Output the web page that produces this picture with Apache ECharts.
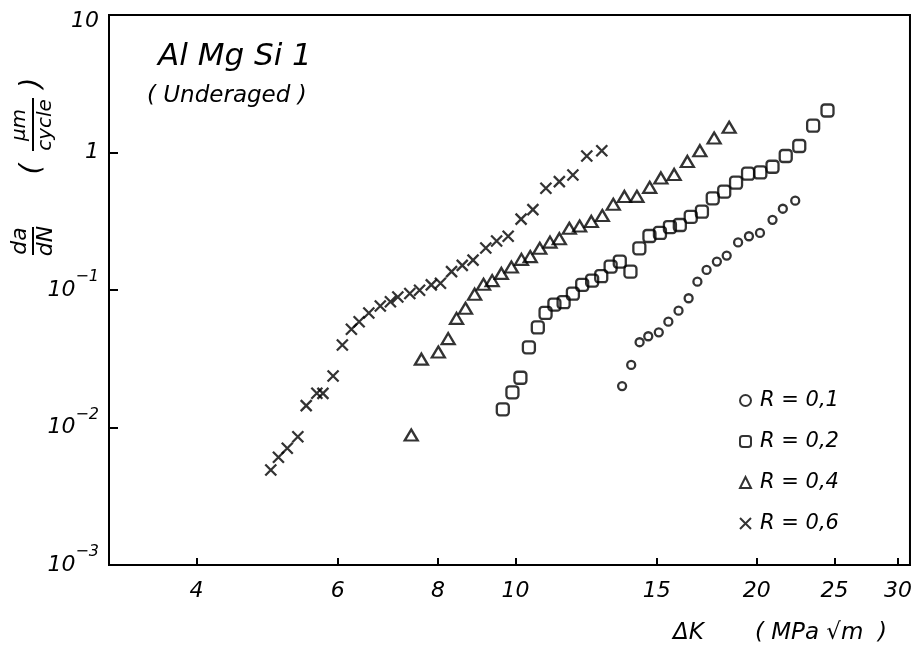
<!DOCTYPE html>
<html><head><meta charset="utf-8">
<script src="https://cdn.jsdelivr.net/npm/echarts@6/dist/echarts.min.js"></script>
<style>html,body{margin:0;padding:0;background:#fff}#c{width:915px;height:647px}</style>
</head><body><div id="c"></div>
<script>
// ---- data (ΔK in MPa·√m, da/dN in µm/cycle) ----
const seriesNames = ['R = 0,1', 'R = 0,2', 'R = 0,4', 'R = 0,6'];

const r01_dK   = [13.58, 13.94, 14.28, 14.64, 15.09, 15.51, 15.97, 16.44, 16.86, 17.31, 17.83, 18.34, 18.95, 19.55, 20.18, 20.92, 21.55, 22.33];
const r01_dadN = [0.0200, 0.0285, 0.0417, 0.0461, 0.0492, 0.0588, 0.0707, 0.0871, 0.115, 0.140, 0.161, 0.178, 0.222, 0.246, 0.260, 0.324, 0.390, 0.446];

const r02_dK   = [9.64, 9.91, 10.14, 10.39, 10.66, 10.90, 11.18, 11.48, 11.79, 12.11, 12.46, 12.79, 13.14, 13.49, 13.91, 14.27, 14.69, 15.14, 15.58, 16.03, 16.54, 17.08, 17.62, 18.21, 18.84, 19.50, 20.20, 20.92, 21.73, 22.59, 23.51, 24.50];
const r02_dadN = [0.01356, 0.01803, 0.0230, 0.0383, 0.0534, 0.0681, 0.0782, 0.0815, 0.094, 0.109, 0.117, 0.126, 0.148, 0.161, 0.136, 0.201, 0.247, 0.260, 0.287, 0.297, 0.340, 0.371, 0.464, 0.519, 0.603, 0.701, 0.716, 0.788, 0.943, 1.115, 1.566, 2.02];

const r04_dK   = [7.41, 7.63, 8.01, 8.24, 8.44, 8.66, 8.89, 9.12, 9.35, 9.60, 9.88, 10.17, 10.43, 10.72, 11.04, 11.34, 11.67, 12.02, 12.43, 12.83, 13.24, 13.67, 14.17, 14.70, 15.18, 15.77, 16.38, 16.98, 17.69, 18.47];
const r04_dadN = [0.00882, 0.0314, 0.0354, 0.0443, 0.0622, 0.0736, 0.0932, 0.110, 0.117, 0.132, 0.147, 0.167, 0.175, 0.201, 0.223, 0.236, 0.281, 0.292, 0.315, 0.348, 0.420, 0.479, 0.480, 0.558, 0.653, 0.692, 0.861, 1.03, 1.275, 1.525];

const r06_dK   = [4.95, 5.06, 5.19, 5.35, 5.48, 5.65, 5.75, 5.92, 6.08, 6.24, 6.38, 6.56, 6.78, 6.98, 7.13, 7.38, 7.59, 7.85, 8.06, 8.32, 8.58, 8.85, 9.18, 9.47, 9.79, 10.16, 10.51, 10.91, 11.34, 11.79, 12.27, 12.81];
const r06_dadN = [0.00491, 0.00607, 0.00706, 0.00857, 0.01442, 0.01774, 0.0177, 0.0237, 0.0398, 0.0518, 0.0588, 0.0681, 0.0765, 0.0822, 0.0889, 0.0944, 0.0995, 0.109, 0.112, 0.136, 0.151, 0.165, 0.202, 0.227, 0.246, 0.328, 0.384, 0.549, 0.614, 0.686, 0.944, 1.03];

const xTicks = [4, 6, 8, 10, 15, 20, 25, 30];
const yTicks = [0.001, 0.01, 0.1, 1, 10];
const xRange = [3.11, 31.05];
const yRange = [0.001, 10];

// ---- chart ----
const FONT = 'DejaVu Sans';
const INK = '#000';
const lg = Math.log10;
const toPts = (xs, ys) => xs.map((x, i) => [lg(x), lg(ys[i])]);
const txt = (size) => ({ fontFamily: FONT, fontStyle: 'italic', fontWeight: 'normal', fontSize: size, color: INK });
const markStyle = { color: 'rgba(0,0,0,0)', borderColor: INK, borderWidth: 2.3 };
const CROSS = 'path://M0,0L10,10M10,0L0,10';
const gfont = (s) => 'italic ' + s + 'px "DejaVu Sans"';

const chart = echarts.init(document.getElementById('c'), null, { renderer: 'canvas' });
chart.setOption({
  animation: false,
  backgroundColor: '#fff',
  title: [
    { text: 'Al Mg Si 1', left: 153, top: 36, textStyle: txt(31) },
    { text: '( Underaged )', left: 142, top: 80, textStyle: txt(23) }
  ],
  grid: { left: 109, right: 4, top: 15, bottom: 82, show: true, borderColor: INK, borderWidth: 2, backgroundColor: 'transparent' },
  legend: {
    orient: 'vertical', left: 734, top: 385, itemGap: 20, itemWidth: 11, itemHeight: 11,
    textStyle: Object.assign(txt(21), { lineHeight: 20, padding: [0, 0, 0, 4] }),
    data: seriesNames
  },
  xAxis: {
    type: 'value', min: lg(xRange[0]), max: lg(xRange[1]),
    splitLine: { show: false },
    axisLine: { onZero: false, lineStyle: { color: INK, width: 2 } },
    axisTick: { inside: true, length: 7, lineStyle: { color: INK, width: 2 }, customValues: xTicks.map(lg) },
    axisLabel: { customValues: xTicks.map(lg), margin: 15, formatter: v => String(Math.round(Math.pow(10, v))), ...txt(22) },
    name: 'ΔK       ( MPa √m  )', nameLocation: 'end', nameGap: -23,
    nameTextStyle: Object.assign(txt(23), { align: 'right', verticalAlign: 'top', padding: [57, 0, 0, 0] })
  },
  yAxis: {
    type: 'value', min: lg(yRange[0]), max: lg(yRange[1]),
    splitLine: { show: false },
    axisLine: { onZero: false, lineStyle: { color: INK, width: 2 } },
    axisTick: { inside: true, length: 9, lineStyle: { color: INK, width: 2 }, customValues: yTicks.map(lg) },
    axisLabel: {
      customValues: yTicks.map(lg), margin: 10,
      formatter: v => {
        const e = Math.round(v);
        if (e === 1) return '{t|10}';
        if (e === 0) return '{n|1}';
        return '{n|10}{s|−' + (-e) + '}';
      },
      rich: {
        t: Object.assign(txt(22), { padding: [12, 0, 0, 0] }),
        n: Object.assign(txt(22), { lineHeight: 42, verticalAlign: 'middle' }),
        s: Object.assign(txt(16), { lineHeight: 14, verticalAlign: 'top' })
      }
    }
  },
  graphic: [
    {
      type: 'group', x: 33, y: 241, rotation: Math.PI / 2,
      children: [
        { type: 'text', x: 0, y: -13, style: { text: 'da', align: 'center', verticalAlign: 'middle', font: gfont(22), fill: INK } },
        { type: 'line', shape: { x1: -14, y1: 0, x2: 14, y2: 0 }, style: { stroke: INK, lineWidth: 2 } },
        { type: 'text', x: 0, y: 13, style: { text: 'dN', align: 'center', verticalAlign: 'middle', font: gfont(22), fill: INK } },
        { type: 'text', x: 72, y: 0, style: { text: '(', align: 'center', verticalAlign: 'middle', font: gfont(28), fill: INK } },
        { type: 'text', x: 116, y: -13, style: { text: 'µm', align: 'center', verticalAlign: 'middle', font: gfont(20), fill: INK } },
        { type: 'line', shape: { x1: 90, y1: 0, x2: 143, y2: 0 }, style: { stroke: INK, lineWidth: 2 } },
        { type: 'text', x: 116, y: 13, style: { text: 'cycle', align: 'center', verticalAlign: 'middle', font: gfont(20), fill: INK } },
        { type: 'text', x: 158, y: 0, style: { text: ')', align: 'center', verticalAlign: 'middle', font: gfont(28), fill: INK } }
      ]
    }
  ],
  series: [
    { name: seriesNames[0], type: 'scatter', symbol: 'circle', symbolSize: 8, itemStyle: markStyle, data: toPts(r01_dK, r01_dadN) },
    { name: seriesNames[1], type: 'scatter', symbol: 'roundRect', symbolSize: 12, itemStyle: markStyle, data: toPts(r02_dK, r02_dadN) },
    { name: seriesNames[2], type: 'scatter', symbol: 'triangle', symbolSize: [13, 11], itemStyle: markStyle, data: toPts(r04_dK, r04_dadN) },
    { name: seriesNames[3], type: 'scatter', symbol: CROSS, symbolSize: 11, itemStyle: markStyle, data: toPts(r06_dK, r06_dadN) }
  ]
});
</script></body></html>
